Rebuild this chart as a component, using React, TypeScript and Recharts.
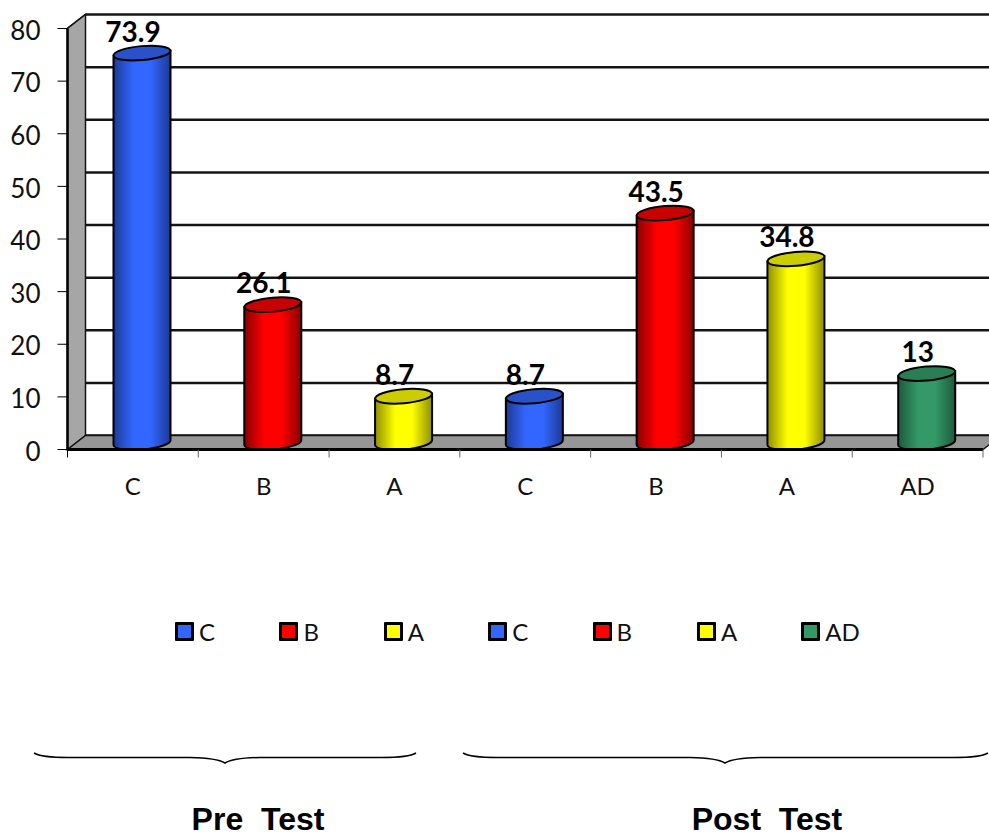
import {
  BarChart,
  Bar,
  XAxis,
  YAxis,
  CartesianGrid,
  Legend,
  LabelList,
  ReferenceArea,
} from "recharts";

const categories = ["C", "B", "A", "C", "B", "A", "AD"];
const scores = [73.9, 26.1, 8.7, 8.7, 43.5, 34.8, 13];
const barColors = ["blue", "red", "yellow", "blue", "red", "yellow", "green"];
const yTicks = [0, 10, 20, 30, 40, 50, 60, 70, 80];

const palette: any = {
  blue: { mid: "#3366ff", edge: "#1c3a94", top: "#2a52c8" },
  red: { mid: "#ff0000", edge: "#8a0000", top: "#c80000" },
  yellow: { mid: "#ffff00", edge: "#8f8f00", top: "#cccc00" },
  green: { mid: "#339966", edge: "#1d5a3b", top: "#2b7d54" },
};

const data = categories.map((name, i) => ({
  name,
  score: scores[i],
  color: barColors[i],
}));

const W = 989;
const H = 834;
const DX = 18; // depth of the fake 3d box
const DY = 14;
const BAND = 915.5 / categories.length;
const LINE = "#141414";

function Cylinder({ x, y, width, height, payload }: any) {
  const c = palette[payload.color];
  const l = x + 9;
  const r = l + width;
  const rx = width / 2;
  const top = y - 7.5;
  const bottom = y + height - 7;
  const t = 2.5;
  return (
    <g>
      <path
        d={`M${l},${top + t} L${l},${bottom + t} A${rx},7 -5 0 0 ${r},${bottom - t} L${r},${top - t} Z`}
        fill={`url(#cyl-${payload.color})`}
        stroke="#000"
        strokeWidth={2}
      />
      <ellipse
        cx={l + rx}
        cy={top}
        rx={rx}
        ry={7}
        transform={`rotate(-5 ${l + rx} ${top})`}
        fill={c.top}
        stroke="#000"
        strokeWidth={2}
      />
    </g>
  );
}

function BoxSides({ x, y, width, height }: any) {
  const b = y + height;
  return (
    <g>
      <polygon
        points={`${x},${y} ${x + DX},${y - DY} ${x + DX},${b - DY} ${x},${b}`}
        fill="#a6a6a6"
        stroke={LINE}
        strokeWidth={1.5}
      />
      <polygon
        points={`${x},${b} ${x + DX},${b - DY} ${x + width + DX},${b - DY} ${x + width},${b}`}
        fill="#969696"
        stroke={LINE}
        strokeWidth={1.5}
      />
    </g>
  );
}

function WallLine({ x1, x2, y1 }: any) {
  return (
    <g>
      <line x1={x1} y1={y1} x2={x1 + DX} y2={y1 - DY} stroke={LINE} strokeWidth={2} />
      <line x1={x1 + DX} y1={y1 - DY} x2={x2 + DX} y2={y1 - DY} stroke={LINE} strokeWidth={2.5} />
    </g>
  );
}

function CategoryTick({ x, y, payload, index }: any) {
  const left = x - BAND / 2;
  const mark = (at: number, color: string) => (
    <line x1={at} y1={y - 8} x2={at} y2={y} stroke={color} strokeWidth={1} />
  );
  return (
    <g>
      {mark(left, index === 0 ? "#000" : "#666")}
      {index === categories.length - 1 && mark(left + BAND, "#666")}
      <text x={x} y={y + 37} textAnchor="middle" fontFamily="Lato" fontSize={24} fill="#111">
        {payload.value}
      </text>
    </g>
  );
}

function LegendRow() {
  return (
    <div style={{ display: "flex", fontFamily: "Lato", fontSize: 24, color: "#111" }}>
      {data.map((d, i) => (
        <div key={i} style={{ width: 104.4, display: "flex", alignItems: "center", height: 30 }}>
          <span
            style={{
              width: 13,
              height: 13,
              border: "3px solid #000",
              borderRadius: 1,
              background: palette[d.color].mid,
              marginRight: 5,
            }}
          />
          {d.name}
        </div>
      ))}
    </div>
  );
}

function Brace({ from, to, tip }: any) {
  return (
    <path
      d={`M${from},753 Q${from + 8},758 ${from + 40},757.5 L${tip - 35},757.5 Q${tip - 8},758 ${tip},763 Q${tip + 8},758 ${tip + 35},757.5 L${to - 40},757.5 Q${to - 8},758 ${to},753`}
      fill="none"
      stroke="#000"
      strokeWidth={1.5}
    />
  );
}

function GroupLabel({ x, children }: any) {
  return (
    <text
      x={x}
      y={830}
      textAnchor="middle"
      fontFamily="Liberation Sans"
      fontWeight="bold"
      fontSize={32}
      fill="#000"
      style={{ whiteSpace: "pre" }}
    >
      {children}
    </text>
  );
}

export default function App() {
  return (
    <div style={{ position: "absolute", left: 0, top: 0, width: W, height: H, overflow: "hidden" }}>
      <BarChart
        width={W}
        height={H}
        data={data}
        barSize={57}
        margin={{ top: 28.5, right: 6, bottom: 324.5, left: 0 }}
      >
        <defs>
          {Object.keys(palette).map((k) => (
            <linearGradient key={k} id={`cyl-${k}`} x1="0" y1="0" x2="1" y2="0">
              <stop offset="0%" stopColor={palette[k].edge} />
              <stop offset="35%" stopColor={palette[k].mid} />
              <stop offset="65%" stopColor={palette[k].mid} />
              <stop offset="100%" stopColor={palette[k].edge} />
            </linearGradient>
          ))}
        </defs>
        <ReferenceArea y1={0} y2={80} shape={BoxSides} fillOpacity={1} />
        <CartesianGrid horizontal={WallLine} vertical={false} />
        <XAxis
          dataKey="name"
          interval={0}
          tick={CategoryTick}
          tickLine={false}
          axisLine={{ stroke: "#000", strokeWidth: 3 }}
        />
        <YAxis
          width={67.5}
          domain={[0, 80]}
          ticks={yTicks}
          interval={0}
          tickSize={10}
          tickMargin={17}
          tickLine={{ stroke: "#000", strokeWidth: 1 }}
          axisLine={{ stroke: "#000", strokeWidth: 2.5 }}
          tick={{ fontFamily: "Lato", fontSize: 26, fill: "#111", dy: 2 }}
        />
        <Legend
          content={LegendRow}
          wrapperStyle={{ position: "absolute", left: 175, top: 616, width: 760, height: 30 }}
        />
        <Bar dataKey="score" shape={Cylinder} isAnimationActive={false}>
          <LabelList
            dataKey="score"
            position="top"
            offset={19}
            fontFamily="Lato"
            fontWeight="bold"
            fontSize={28}
            fill="#000"
          />
        </Bar>
        <Brace from={34} to={416} tip={225} />
        <Brace from={463} to={988} tip={725} />
        <GroupLabel x={258}>{"Pre  Test"}</GroupLabel>
        <GroupLabel x={767}>{"Post  Test"}</GroupLabel>
      </BarChart>
    </div>
  );
}
